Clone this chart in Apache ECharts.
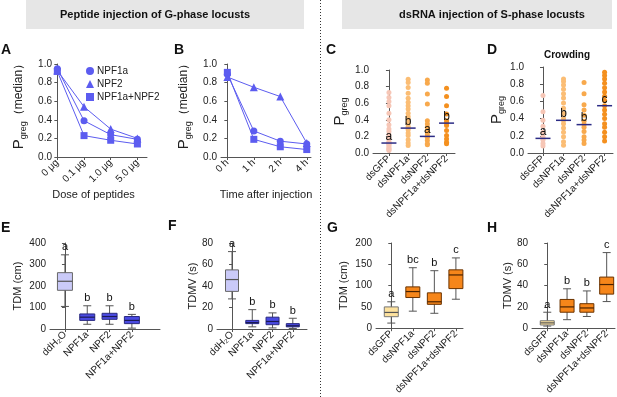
<!DOCTYPE html>
<html><head><meta charset="utf-8">
<script src="https://cdn.jsdelivr.net/npm/echarts@6/dist/echarts.min.js"></script>
<style>html,body{margin:0;padding:0;background:#fff}#c{width:617px;height:397px}</style>
</head><body><div id="c"></div>
<script>
// ---------- data ----------
const doseCats = ['0 μg', '0.1 μg', '1.0 μg', '5.0 μg'];
const timeCats = ['0 h', '1 h', '2 h', '4 h'];
const peptideNames = ['NPF1a', 'NPF2', 'NPF1a+NPF2'];
const doseNPF1a = [0.95, 0.39, 0.24, 0.19];
const doseNPF2 = [0.93, 0.54, 0.30, 0.20];
const doseBoth = [0.92, 0.23, 0.18, 0.14];
const timeNPF1a = [0.89, 0.28, 0.17, 0.14];
const timeNPF2 = [0.86, 0.75, 0.65, 0.15];
const timeBoth = [0.91, 0.19, 0.11, 0.08];

const dsCats = ['dsGFP', 'dsNPF1a', 'dsNPF2', 'dsNPF1a+dsNPF2'];
const cGFP = [0.73, 0.67, 0.62, 0.57, 0.48, 0.40, 0.34, 0.29, 0.26, 0.22, 0.18, 0.14, 0.12, 0.12, 0.11, 0.10, 0.08, 0.06, 0.05, 0.04, 0.03];
const cNPF1a = [0.89, 0.85, 0.79, 0.72, 0.66, 0.61, 0.57, 0.53, 0.48, 0.44, 0.41, 0.36, 0.32, 0.30, 0.28, 0.24, 0.21, 0.16, 0.12, 0.09];
const cNPF2 = [0.88, 0.84, 0.71, 0.59, 0.39, 0.35, 0.31, 0.27, 0.23, 0.20, 0.19, 0.15, 0.11, 0.10];
const cBoth = [0.78, 0.68, 0.57, 0.47, 0.39, 0.36, 0.33, 0.27, 0.21, 0.17, 0.13, 0.11];
const cMedians = [0.12, 0.30, 0.20, 0.36];
const cLetters = ['a', 'b', 'a', 'b'];

const dGFP = [0.67, 0.48, 0.38, 0.31, 0.24, 0.19, 0.17, 0.15, 0.11, 0.08];
const dNPF1a = [0.86, 0.83, 0.79, 0.74, 0.69, 0.64, 0.58, 0.52, 0.46, 0.40, 0.38, 0.34, 0.29, 0.24, 0.19, 0.13, 0.09];
const dNPF2 = [0.82, 0.69, 0.56, 0.50, 0.44, 0.37, 0.33, 0.30, 0.25, 0.19, 0.15, 0.11];
const dBoth = [0.94, 0.90, 0.86, 0.81, 0.76, 0.71, 0.66, 0.61, 0.55, 0.50, 0.45, 0.40, 0.34, 0.30, 0.24, 0.19, 0.14];
const dMedians = [0.17, 0.38, 0.33, 0.55];
const dLetters = ['a', 'b', 'b', 'c'];

const waterCats = ['ddH₂O', 'NPF1a', 'NPF2', 'NPF1a+NPF2'];
// [low whisker, Q1, median, Q3, high whisker]
const eBoxes = [[105, 180, 222, 262, 345], [22, 40, 55, 70, 108], [22, 45, 58, 73, 108], [4, 25, 40, 58, 68]];
const eLetters = ['a', 'b', 'b', 'b'];
const fBoxes = [[28, 35, 46, 55, 72], [2, 5, 6, 8, 18], [1, 4, 7, 11, 15], [0.5, 2, 3, 5, 10]];
const fLetters = ['a', 'b', 'b', 'b'];
const gBoxes = [[12, 27, 37, 50, 62], [40, 72, 86, 97, 142], [35, 56, 62, 83, 135], [68, 93, 125, 137, 165]];
const gLetters = ['a', 'bc', 'b', 'c'];
const hBoxes = [[2, 3, 5, 7, 15], [8, 15, 20, 27, 37], [11, 15, 19, 23, 35], [25, 32, 41, 48, 71]];
const hLetters = ['a', 'b', 'b', 'c'];

// ---------- styles ----------
const FONT = '"Liberation Sans", Arial, Helvetica, sans-serif';
const LINE_BLUE = '#5c5cf0';
const AX = '#555';
const TXT = '#222';
const dotColors = ['#f6c6b6', '#fbbd74', '#f8a94c', '#f4901f'];
const blueFills = [
  {fill: '#cacaf8', stroke: '#666', med: '#555'},
  {fill: '#4a4ae2', stroke: '#2a2a80', med: '#1a1a55'},
  {fill: '#4a4ae2', stroke: '#2a2a80', med: '#1a1a55'},
  {fill: '#4a4ae2', stroke: '#2a2a80', med: '#1a1a55'}
];
const orangeFills = [
  {fill: '#fde29e', stroke: '#777', med: '#555'},
  {fill: '#f6861a', stroke: '#6b3300', med: '#4a2200'},
  {fill: '#f6861a', stroke: '#6b3300', med: '#4a2200'},
  {fill: '#f6861a', stroke: '#6b3300', med: '#4a2200'}
];

const grids = [
  {left: 56, top: 64, width: 91, height: 93},   // A
  {left: 221, top: 64, width: 90, height: 93},  // B
  {left: 373, top: 70, width: 82, height: 83},  // C
  {left: 528, top: 67, width: 85, height: 86},  // D
  {left: 50, top: 243, width: 110, height: 86}, // E
  {left: 217, top: 243, width: 90, height: 86}, // F
  {left: 376, top: 243, width: 87, height: 86}, // G
  {left: 532, top: 243, width: 83, height: 86}  // H
];
const xRanges = [[-0.05, 3.36], [-0.24, 3.16], [-0.83, 3.44], [-0.73, 3.41], [-0.67, 4.26], [-0.74, 3.7], [-0.71, 3.33], [-0.77, 3.42]];
const xCats = [doseCats, timeCats, dsCats, dsCats, waterCats, waterCats, dsCats, dsCats];

function xAxis(i, extra) {
  const cats = xCats[i];
  const ticks = cats.map((_, k) => k);
  return Object.assign({
    type: 'value', gridIndex: i, min: xRanges[i][0], max: xRanges[i][1],
    splitLine: {show: false},
    axisLine: {show: true, onZero: false, lineStyle: {color: AX, width: 1}},
    axisTick: {show: true, customValues: ticks, length: 3, lineStyle: {color: AX}},
    axisLabel: {customValues: ticks, formatter: v => cats[Math.round(v)], rotate: 45, fontSize: 10, color: TXT, fontFamily: FONT, margin: 4}
  }, extra || {});
}
function yAxis(i, max, interval, dec, extra) {
  return Object.assign({
    type: 'value', gridIndex: i, min: 0, max: max, interval: interval,
    splitLine: {show: false},
    axisLine: {show: true, lineStyle: {color: AX, width: 1}},
    axisTick: {show: true, length: 3, lineStyle: {color: AX}},
    axisLabel: {fontSize: 10, color: TXT, fontFamily: FONT, margin: 4, formatter: v => v.toFixed(dec)},
    nameLocation: 'middle', nameRotate: 90
  }, extra || {});
}
const pRich = {
  p: {fontSize: 15, fontFamily: FONT, color: TXT, lineHeight: 18},
  s: {fontSize: 9, fontFamily: FONT, color: TXT, verticalAlign: 'bottom', lineHeight: 10},
  m: {fontSize: 12, fontFamily: FONT, color: TXT, lineHeight: 18}
};

function lineSeries(gi, name, data, symbol, size) {
  return {type: 'line', name, xAxisIndex: gi, yAxisIndex: gi, data: data.map((v, k) => [k, v]),
    symbol, symbolSize: size, showSymbol: true, lineStyle: {color: LINE_BLUE, width: 1},
    itemStyle: {color: LINE_BLUE}, emphasis: {disabled: true}, z: 3};
}
function dotSeries(gi, arrays) {
  const data = [];
  arrays.forEach((arr, k) => arr.forEach(v => data.push([k, v])));
  return {type: 'scatter', xAxisIndex: gi, yAxisIndex: gi, data, symbolSize: 5,
    itemStyle: {color: p => dotColors[p.value[0]], opacity: 1}, z: 2};
}
function medianSeries(gi, medians, letters, halfW) {
  return {type: 'custom', xAxisIndex: gi, yAxisIndex: gi, data: medians.map((v, k) => [k, v]),
    encode: {x: 0, y: 1}, z: 4,
    renderItem: (params, api) => {
      const p = api.coord([api.value(0), api.value(1)]);
      return {type: 'group', children: [
        {type: 'line', shape: {x1: p[0] - halfW, y1: p[1], x2: p[0] + halfW, y2: p[1]}, style: {stroke: '#2b2b85', lineWidth: 1.5}},
        {type: 'text', style: {text: letters[params.dataIndex], x: p[0], y: p[1] - 0.5, align: 'center', verticalAlign: 'bottom', fontSize: 12, fontFamily: FONT, fill: '#111'}}
      ]};
    }};
}
function boxSeries(gi, rows, letters, styles, halfW) {
  return {type: 'custom', xAxisIndex: gi, yAxisIndex: gi, data: rows.map((r, k) => [k].concat(r)),
    encode: {x: 0, y: [1, 2, 3, 4, 5]}, z: 3,
    renderItem: (params, api) => {
      const k = api.value(0);
      const lo = api.coord([k, api.value(1)]), q1 = api.coord([k, api.value(2)]), md = api.coord([k, api.value(3)]),
            q3 = api.coord([k, api.value(4)]), hi = api.coord([k, api.value(5)]);
      const x = lo[0];
      const st = styles[params.dataIndex];
      const w = {stroke: '#555', lineWidth: 1};
      return {type: 'group', children: [
        {type: 'line', shape: {x1: x, y1: hi[1], x2: x, y2: lo[1]}, style: w},
        {type: 'line', shape: {x1: x - 4, y1: hi[1], x2: x + 4, y2: hi[1]}, style: w},
        {type: 'line', shape: {x1: x - 4, y1: lo[1], x2: x + 4, y2: lo[1]}, style: w},
        {type: 'rect', shape: {x: x - halfW, y: q3[1], width: 2 * halfW, height: q1[1] - q3[1]}, style: {fill: st.fill, stroke: st.stroke, lineWidth: 1}},
        {type: 'line', shape: {x1: x - halfW, y1: md[1], x2: x + halfW, y2: md[1]}, style: {stroke: st.med, lineWidth: 1.2}},
        {type: 'text', style: {text: letters[params.dataIndex], x: x, y: hi[1] - 2, align: 'center', verticalAlign: 'bottom', fontSize: 11, fontFamily: FONT, fill: '#111'}}
      ]};
    }};
}

function panelLetter(t, x, y) {
  return {type: 'text', left: x, top: y, style: {text: t, fontSize: 14, fontWeight: 'bold', fontFamily: FONT, fill: '#111'}};
}

const option = {
  animation: false,
  backgroundColor: '#fff',
  textStyle: {fontFamily: FONT},
  grid: grids.map(g => Object.assign({containLabel: false}, g)),
  legend: {
    left: 81, top: 61, orient: 'vertical', itemWidth: 8, itemHeight: 8, itemGap: 3,
    textStyle: {fontSize: 10, color: TXT, fontFamily: FONT, padding: [0, 0, 0, -2]},
    data: [{name: 'NPF1a', icon: 'circle'}, {name: 'NPF2', icon: 'triangle'}, {name: 'NPF1a+NPF2', icon: 'rect'}],
    selectedMode: false
  },
  xAxis: [
    xAxis(0, {name: 'Dose of peptides', nameLocation: 'middle', nameGap: 32, nameTextStyle: {fontSize: 11, color: TXT, fontFamily: FONT, padding: [0, 16, 0, 0]}}),
    xAxis(1, {name: 'Time after injection', nameLocation: 'middle', nameGap: 32, nameTextStyle: {fontSize: 11, color: TXT, fontFamily: FONT}}),
    xAxis(2), xAxis(3), xAxis(4), xAxis(5), xAxis(6), xAxis(7)
  ],
  yAxis: [
    yAxis(0, 1, 0.2, 1, {name: '{p|P}{s|greg}{m|（median）}', nameGap: 28, nameTextStyle: {rich: pRich, padding: [0, 0, 0, 14]}}),
    yAxis(1, 1, 0.2, 1, {name: '{p|P}{s|greg}{m|（median）}', nameGap: 28, nameTextStyle: {rich: pRich, padding: [0, 0, 0, 14]}}),
    yAxis(2, 1, 0.2, 1, {name: '{p|P}{s|greg}', nameGap: 24, nameTextStyle: {rich: pRich}}),
    yAxis(3, 1, 0.2, 1, {name: '{p|P}{s|greg}', nameGap: 22, nameTextStyle: {rich: pRich}}),
    yAxis(4, 400, 100, 0, {name: 'TDM (cm)', nameGap: 27, nameTextStyle: {fontSize: 11, color: TXT, fontFamily: FONT}}),
    yAxis(5, 80, 20, 0, {name: 'TDMV (s)', nameGap: 18, nameTextStyle: {fontSize: 11, color: TXT, fontFamily: FONT}}),
    yAxis(6, 200, 50, 0, {name: 'TDM (cm)', nameGap: 27, nameTextStyle: {fontSize: 11, color: TXT, fontFamily: FONT}}),
    yAxis(7, 80, 20, 0, {name: 'TDMV (s)', nameGap: 19, nameTextStyle: {fontSize: 11, color: TXT, fontFamily: FONT}})
  ],
  series: [
    lineSeries(0, peptideNames[0], doseNPF1a, 'circle', 7),
    lineSeries(0, peptideNames[1], doseNPF2, 'triangle', 8),
    lineSeries(0, peptideNames[2], doseBoth, 'rect', 7),
    lineSeries(1, peptideNames[0], timeNPF1a, 'circle', 7),
    lineSeries(1, peptideNames[1], timeNPF2, 'triangle', 8),
    lineSeries(1, peptideNames[2], timeBoth, 'rect', 7),
    dotSeries(2, [cGFP, cNPF1a, cNPF2, cBoth]),
    medianSeries(2, cMedians, cLetters, 7.5),
    dotSeries(3, [dGFP, dNPF1a, dNPF2, dBoth]),
    medianSeries(3, dMedians, dLetters, 7.5),
    boxSeries(4, eBoxes, eLetters, blueFills, 7.5),
    boxSeries(5, fBoxes, fLetters, blueFills, 6.5),
    boxSeries(6, gBoxes, gLetters, orangeFills, 7),
    boxSeries(7, hBoxes, hLetters, orangeFills, 7)
  ],
  graphic: [
    {type: 'rect', shape: {x: 26, y: 0, width: 278, height: 29}, style: {fill: '#e6e6e6'}, z: -1},
    {type: 'rect', shape: {x: 342, y: 0, width: 270, height: 29}, style: {fill: '#e6e6e6'}, z: -1},
    {type: 'text', x: 155, y: 15, style: {text: 'Peptide injection of G-phase locusts', align: 'center', verticalAlign: 'middle', fontSize: 11, fontWeight: 'bold', fontFamily: FONT, fill: '#111'}},
    {type: 'text', x: 492, y: 15, style: {text: 'dsRNA injection of S-phase locusts', align: 'center', verticalAlign: 'middle', fontSize: 11, fontWeight: 'bold', fontFamily: FONT, fill: '#111'}},
    {type: 'line', shape: {x1: 320.5, y1: 0, x2: 320.5, y2: 397}, style: {stroke: '#333', lineWidth: 1, lineDash: [1, 2]}},
    {type: 'text', x: 567, y: 55, style: {text: 'Crowding', align: 'center', verticalAlign: 'middle', fontSize: 10, fontWeight: 'bold', fontFamily: FONT, fill: '#111'}},
    panelLetter('A', 1, 43), panelLetter('B', 174, 43), panelLetter('C', 326, 43), panelLetter('D', 487, 43),
    panelLetter('E', 1, 221), panelLetter('F', 168, 219), panelLetter('G', 327, 221), panelLetter('H', 487, 221)
  ]
};
const chart = echarts.init(document.getElementById('c'));
chart.setOption(option);
</script>
</body></html>
